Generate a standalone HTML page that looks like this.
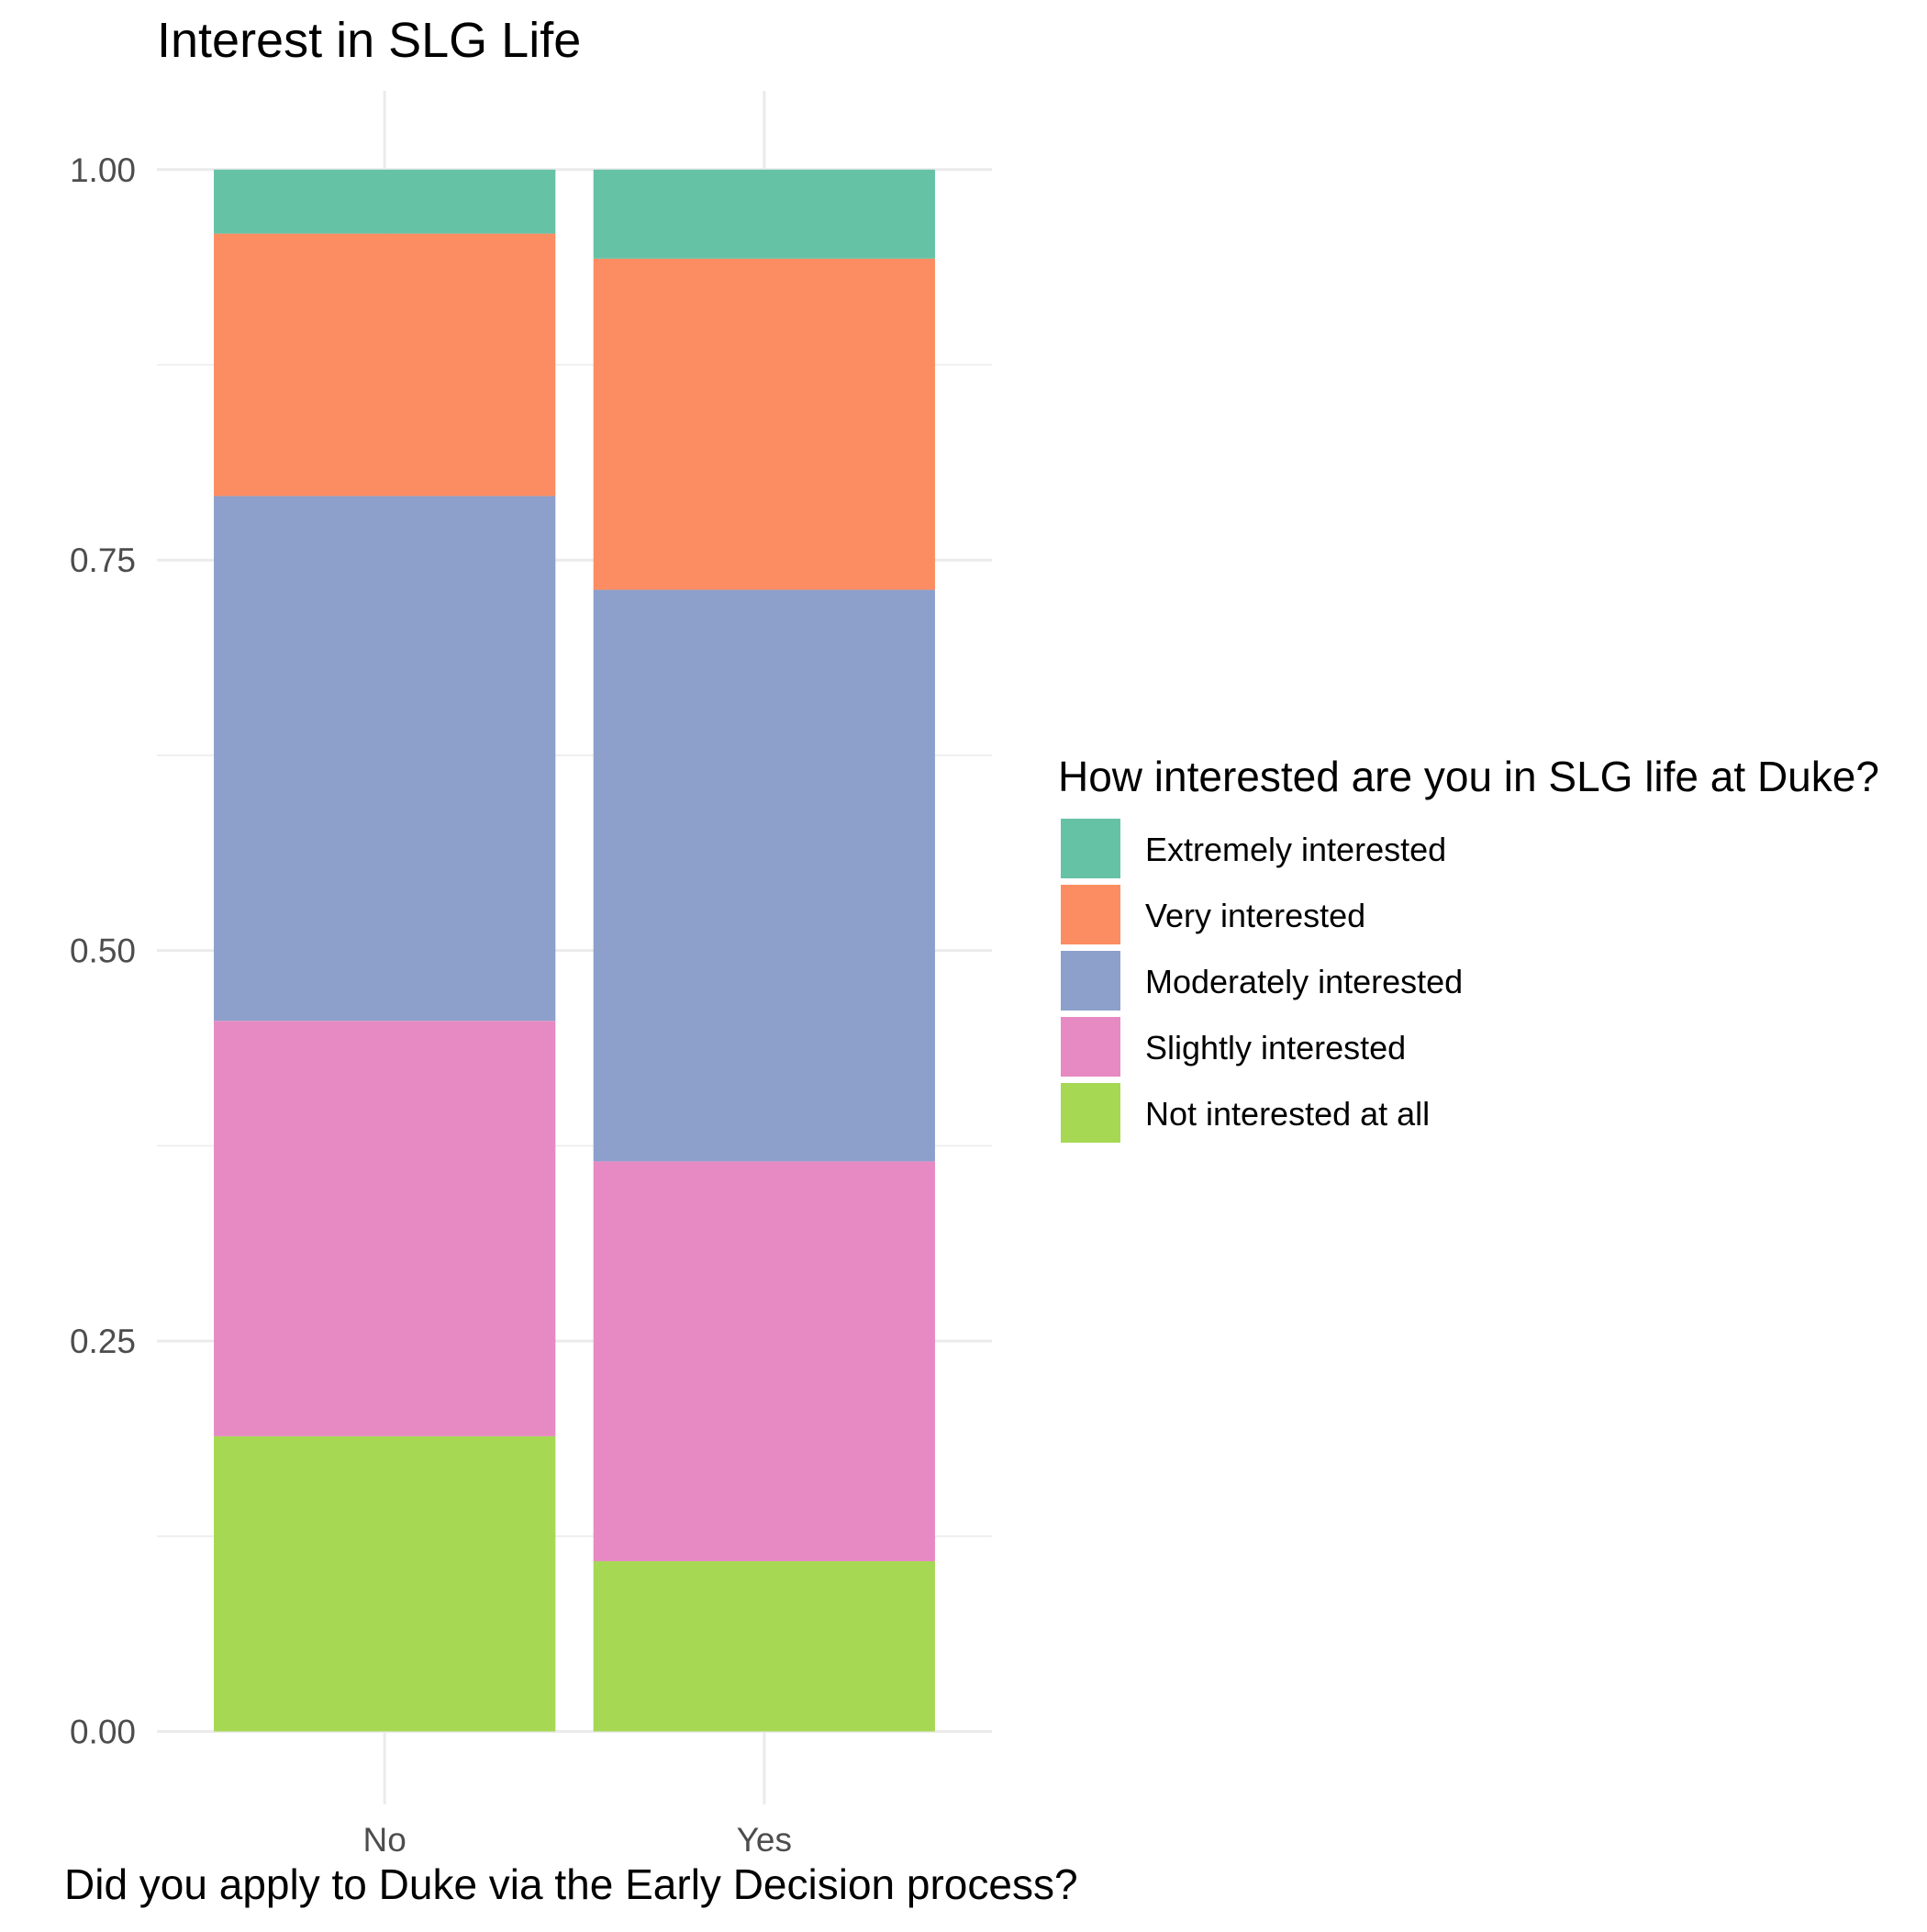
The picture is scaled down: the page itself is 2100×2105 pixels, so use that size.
<!DOCTYPE html>
<html><head><meta charset="utf-8"><style>
body{margin:0;background:#fff}
svg text{font-family:"Liberation Sans",Arial,sans-serif}
</style></head><body>
<svg id="chart" width="2100" height="2100" viewBox="0 0 2100 2100" xmlns="http://www.w3.org/2000/svg">
<text x="171" y="62" font-size="54" fill="#000">Interest in SLG Life</text>
<g id="grid"></g>
<g id="bars"></g>
<g id="ticks"></g>
<text x="70" y="2069" font-size="46" fill="#000">Did you apply to Duke via the Early Decision process?</text>
<text x="1153" y="862" font-size="46" fill="#000">How interested are you in SLG life at Duke?</text>
<g id="legend"></g>
</svg>
<script>
const categories=["No","Yes"];
const series=["Not interested at all","Slightly interested","Moderately interested","Very interested","Extremely interested"];
const colors=["#A6D854","#E78AC3","#8DA0CB","#FC8D62","#66C2A5"];
const valuesNo=[0.189,0.266,0.336,0.168,0.041];
const valuesYes=[0.109,0.256,0.366,0.212,0.057];
const yTicks=[0,0.25,0.5,0.75,1];
const yTickLabels=["0.00","0.25","0.50","0.75","1.00"];
const NS="http://www.w3.org/2000/svg";
const px0=171,px1=1081,py0=99,py1=1966;
const y=v=>1886.5-v*(1886.5-184.8);
const bandW=(px1-px0)/2.2, barW=bandW*0.9;
const xc=i=>px0+bandW*0.1+bandW*(i+0.5);
function mk(t,a,p){const e=document.createElementNS(NS,t);for(const k in a)e.setAttribute(k,a[k]);p.appendChild(e);return e;}
const g=document.getElementById('grid');
for(let i=0;i<yTicks.length;i++){
 const l=mk('line',{x1:px0,x2:px1,y1:y(yTicks[i]),y2:y(yTicks[i]),stroke:'#EBEBEB','stroke-width':3},g);
 
 
 if(i<yTicks.length-1){const v=(yTicks[i]+yTicks[i+1])/2;
 const m=mk('line',{x1:px0,x2:px1,y1:y(v),y2:y(v),stroke:'#EBEBEB','stroke-width':1.5},g);
 
 }
}
categories.forEach((c,i)=>{const l=mk('line',{x1:xc(i),x2:xc(i),y1:py0,y2:py1,stroke:'#EBEBEB','stroke-width':3},g);
 
 });
const b=document.getElementById('bars');
[valuesNo,valuesYes].forEach((vals,i)=>{let cum=0;vals.forEach((v,j)=>{
 const r=mk('rect',{x:xc(i)-barW/2,width:barW,y:y(cum+v),height:y(cum)-y(cum+v),fill:colors[j]},b);
 
 
 cum+=v;});});
const t=document.getElementById('ticks');
yTicks.forEach((v,i)=>{const e=mk('text',{x:148,y:y(v)+13,'text-anchor':'end','font-size':37,fill:'#4D4D4D'},t);e.textContent=yTickLabels[i];
 
 });
categories.forEach((c,i)=>{const e=mk('text',{x:xc(i),y:2017,'text-anchor':'middle','font-size':37,fill:'#4D4D4D'},t);e.textContent=c;
 
 });
const lg=document.getElementById('legend');
for(let k=0;k<5;k++){const j=4-k;const top=892+k*72;
 const r=mk('rect',{x:1156,y:top,width:65,height:65,fill:colors[j]},lg);
 
 
 const e=mk('text',{x:1248,y:top+46,'font-size':36,fill:'#000'},lg);e.textContent=series[j];
 
 }
</script>
</body></html>
